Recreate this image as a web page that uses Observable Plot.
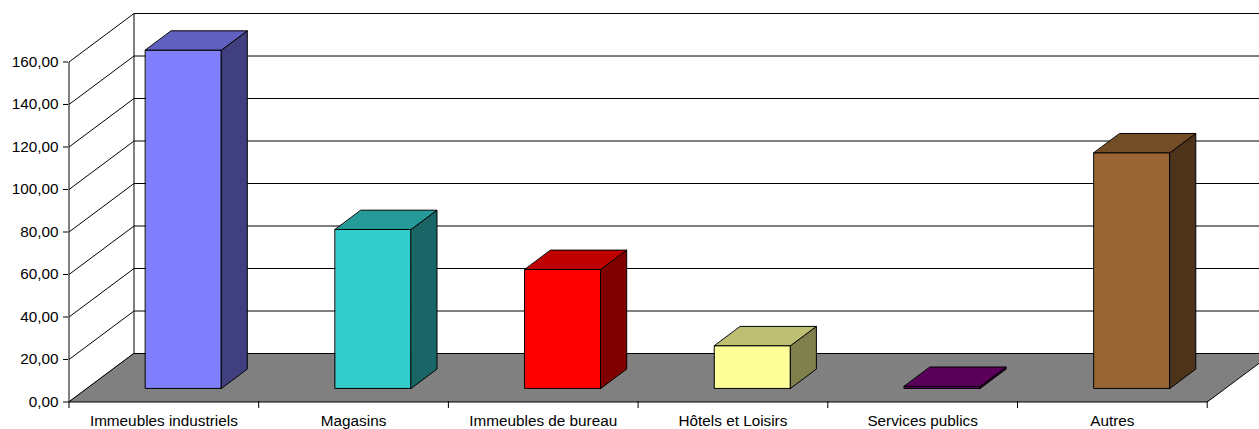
<!DOCTYPE html>
<html>
<head>
<meta charset="utf-8">
<script src="https://cdn.jsdelivr.net/npm/d3@7"></script>
<script src="https://cdn.jsdelivr.net/npm/@observablehq/plot@0.6"></script>
<style>
  html, body { margin: 0; padding: 0; background: #fff; }
  svg { display: block; }
</style>
</head>
<body>
<div id="chart"></div>
<script>
// Surface par catégorie de bâtiment
const categories = ["Immeubles industriels", "Magasins", "Immeubles de bureau", "Hôtels et Loisirs", "Services publics", "Autres"];
const values = [159.2, 74.8, 56, 20.1, 1, 110.9];
const yTicks = [0, 20, 40, 60, 80, 100, 120, 140, 160];
const xTicks = [0, 1, 2, 3, 4, 5, 6];

// Face colours of each column: front, top, side
const fronts = ["#8080ff", "#33cccc", "#ff0000", "#ffff99", "#660066", "#996633"];
const tops = ["#6060c0", "#269999", "#bf0000", "#bfbf73", "#5a005a", "#734d26"];
const sides = ["#404080", "#1a6666", "#800000", "#80804d", "#330033", "#4d331a"];

// Oblique projection: depth 0 is the front edge of the floor, 1 its back edge
const depthX = 0.3427;   // category widths per unit of depth
const depthY = 22.82;    // value units per unit of depth
const project = (cat, value, depth) => ({x: cat + depthX * depth, y: value + depthY * depth});

// Column footprint inside its category band
const barStart = 0.3075, barWidth = 0.4, zFront = 0.28, zBack = 0.678;

const polygon = (id, color, corners) =>
  corners.map(([c, v, z]) => ({id, color, ...project(c, v, z)}));

const floor = polygon("floor", "#808080", [[0, 0, 0], [6, 0, 0], [6, 0, 1], [0, 0, 1]]);

const faces = categories.flatMap((name, i) => {
  const a = i + barStart, b = a + barWidth, v = values[i];
  return [
    ...polygon(`${i}-front`, fronts[i], [[a, 0, zFront], [b, 0, zFront], [b, v, zFront], [a, v, zFront]]),
    ...polygon(`${i}-side`, sides[i], [[b, 0, zFront], [b, 0, zBack], [b, v, zBack], [b, v, zFront]]),
    ...polygon(`${i}-top`, tops[i], [[a, v, zFront], [b, v, zFront], [b, v, zBack], [a, v, zBack]])
  ];
});

// Wall grid: a diagonal across the left wall, then a level line along the back wall
const gridLines = yTicks.flatMap((t) => [
  [project(0, t, 0), project(0, t, 1)],
  [project(0, t, 1), project(6, t, 1)]
]).map(([p, q]) => ({x1: p.x, y1: p.y, x2: q.x, y2: q.y}));

const wallEdges = [
  [project(0, 0, 0), project(0, 160, 0)],
  [project(0, 0, 1), project(0, 160, 1)]
].map(([p, q]) => ({x1: p.x, y1: p.y, x2: q.x, y2: q.y}));

const labelRows = categories.map((name, i) => ({name, x: i + 0.5}));

const segment = (data) => Plot.link(data, {x1: "x1", y1: "y1", x2: "x2", y2: "y2", stroke: "#000", strokeWidth: 1});
const faceMark = (data) => Plot.line(data, {
  x: "x", y: "y", z: "id", fill: "color", stroke: "#000", strokeWidth: 1,
  curve: "linear-closed", strokeLinejoin: "miter"
});

const chart = Plot.plot({
  width: 1259,
  height: 429,
  marginLeft: 68,
  marginBottom: 28,
  marginTop: 0,
  marginRight: 0,
  style: {fontFamily: "'Liberation Sans', Arial, sans-serif", fontSize: "15.3px", color: "#000", background: "#fff"},
  x: {domain: [0, 6], range: [68.5, 1206.7]},
  y: {domain: [0, 160], range: [401.5, 61.5]},
  color: {type: "identity"},
  marks: [
    segment(gridLines),
    segment(wallEdges),
    faceMark(floor),
    faceMark(faces),
    Plot.axisY({
      ticks: yTicks, anchor: "left", label: null, tickSize: 5, tickPadding: 5,
      tickFormat: (d) => d.toFixed(2).replace(".", ","),
      stroke: "#000", fontSize: 15.3
    }),
    Plot.axisX({
      ticks: xTicks, anchor: "bottom", label: null, tickSize: 7,
      tickFormat: () => "", stroke: "#000"
    }),
    Plot.text(labelRows, {
      x: "x", y: 0, text: "name", dy: 19.5, fontSize: 15.3, fill: "#000", textAnchor: "middle"
    })
  ]
});
document.getElementById("chart").append(chart);
</script>
</body>
</html>
